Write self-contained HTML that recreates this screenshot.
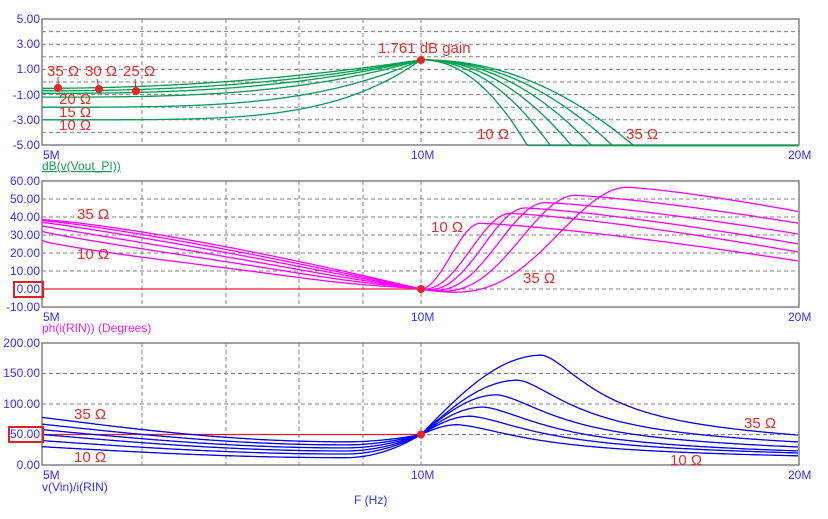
<!DOCTYPE html>
<html><head><meta charset="utf-8"><style>
html,body{margin:0;padding:0;background:#fff;}
svg{display:block;font-family:"Liberation Sans",Arial,sans-serif;}
.ax{fill:#3030ff;font-size:12px;}
.rl{fill:#ee2a2a;font-size:15px;}
</style></head><body>
<svg id="s" width="828" height="519" viewBox="0 0 828 519" xmlns="http://www.w3.org/2000/svg">
<g id="grid" stroke="#808080" stroke-width="1" stroke-dasharray="4,3" fill="none"></g>
<g fill="none" stroke="#808080" stroke-width="1.5">
<rect x="42" y="19" width="757" height="126"/>
<rect x="42" y="181" width="757" height="126"/>
<rect x="42" y="343" width="757" height="122"/>
</g>
<line x1="42" y1="289" x2="421" y2="289" stroke="#e02020" stroke-width="1.3"/>
<line x1="42" y1="434.5" x2="421" y2="434.5" stroke="#e02020" stroke-width="1.3"/>
<g id="curves" fill="none" stroke-width="1.3"></g>
<g class="ax" text-anchor="end">
<text x="40" y="23">5.00</text><text x="40" y="48">3.00</text><text x="40" y="73">1.00</text><text x="40" y="99">-1.00</text><text x="40" y="124">-3.00</text><text x="40" y="149">-5.00</text>
<text x="40" y="185">60.00</text><text x="40" y="203">50.00</text><text x="40" y="221">40.00</text><text x="40" y="239">30.00</text><text x="40" y="257">20.00</text><text x="40" y="275">10.00</text><text x="40" y="293">0.00</text><text x="40" y="311">-10.00</text>
<text x="40" y="347">200.00</text><text x="40" y="377">150.00</text><text x="40" y="408">100.00</text><text x="40" y="438">50.00</text><text x="40" y="469">0.00</text>
</g>
<rect x="14" y="282" width="29" height="15" fill="none" stroke="#e02020" stroke-width="2"/>
<rect x="9" y="427" width="34" height="15" fill="none" stroke="#e02020" stroke-width="2"/>
<g class="ax">
<text x="43" y="159">5M</text><text x="411" y="159">10M</text><text x="788" y="159">20M</text>
<text x="43" y="321">5M</text><text x="411" y="321">10M</text><text x="788" y="321">20M</text>
<text x="43" y="479">5M</text><text x="411" y="479">10M</text><text x="788" y="479">20M</text>
<text x="42" y="170" fill="#10a050" text-decoration="underline">dB(v(Vout_PI))</text>
<text x="42" y="332" fill="#f020f0">ph(i(RIN)) (Degrees)</text>
<text x="42" y="491">v(Vin)/i(RIN)</text>
<text x="354" y="504">F (Hz)</text>
</g>
<g stroke="#e02020" stroke-width="1"><line x1="58" y1="77" x2="58" y2="88"/><line x1="97" y1="79" x2="99" y2="89"/><line x1="135" y1="79" x2="136" y2="91"/></g>
<g fill="#ee2222">
<circle cx="58" cy="88" r="4"/><circle cx="99" cy="89" r="4"/><circle cx="136" cy="91" r="4"/>
<circle cx="421" cy="60" r="4"/><circle cx="421" cy="289" r="4"/><circle cx="421" cy="434.5" r="4"/>
</g>
<g class="rl">
<text x="47" y="76">35 Ω</text><text x="85" y="76">30 Ω</text><text x="123" y="76">25 Ω</text>
<text x="59" y="104">20 Ω</text><text x="59" y="117">15 Ω</text><text x="59" y="130">10 Ω</text>
<text x="378" y="53">1.761 dB gain</text>
<text x="477" y="139">10 Ω</text><text x="626" y="139">35 Ω</text>
<text x="77" y="219">35 Ω</text><text x="77" y="259">10 Ω</text>
<text x="431" y="232">10 Ω</text><text x="523" y="283">35 Ω</text>
<text x="74" y="419">35 Ω</text><text x="74" y="462">10 Ω</text>
<text x="744" y="428">35 Ω</text><text x="670" y="465">10 Ω</text>
</g>
</svg>
<script>
var NS="http://www.w3.org/2000/svg";
var g=document.getElementById("grid"),c=document.getElementById("curves");
function ln(x1,y1,x2,y2,p){var l=document.createElementNS(NS,"line");l.setAttribute("x1",x1);l.setAttribute("y1",y1);l.setAttribute("x2",x2);l.setAttribute("y2",y2);p.appendChild(l);}
var vx=[142,226,299,363,421];
[[19,145],[181,307],[343,465]].forEach(function(b){vx.forEach(function(x){ln(x,b[0],x,b[1],g);});});
for(var i=1;i<10;i++){var y=19+i*12.6;ln(42,y,799,y,g);}
for(var i=1;i<7;i++){var y=181+i*18;ln(42,y,799,y,g);}
for(var i=1;i<4;i++){var y=343+i*30.5;ln(42,y,799,y,g);}
function path(fn,col,y0,y1){var d="";for(var x=42;x<=799;x+=2){var y=fn(x);y=Math.max(y0,Math.min(y1,y));d+=(x==42?"M":"L")+x+","+y.toFixed(1)+" ";}
var p=document.createElementNS(NS,"path");p.setAttribute("d",d);p.setAttribute("stroke",col);c.appendChild(p);}
function ss(u){u=Math.max(0,Math.min(1,u));return u*u*(3-2*u);}
var tv0=[-3.0,-2.0,-1.2,-0.9,-0.7,-0.5],tp=[4.5,3.6,3,2.6,2.3,2],te=[527,550,571,591,612,633];
for(var k=0;k<6;k++)(function(k){path(function(x){var v;if(x<=421){var t=(x-42)/379;v=tv0[k]+(1.761-tv0[k])*Math.pow(t,tp[k]);}else{var u=(x-421)/(te[k]-421);v=1.761-6.761*Math.pow(u,2.1);}return 19+(5-v)*12.6;},"#00a050",19,145.5);})(k);
var m0=[27,32,35,37,38,38.5],mp=[0.8,0.9,1.0,1.1,1.2,1.3],mP=[36.5,42,45,48,52,56.5],mX=[480,510,525,545,575,627],mE=[15.5,20.5,25,30.5,36.5,43];
for(var k=0;k<6;k++)(function(k){path(function(x){var v;if(x<=421){var t=(x-42)/379;v=m0[k]*(1-Math.pow(t,mp[k]))-(5-k)*0.8*Math.pow(Math.sin(Math.PI*t),2)*Math.pow(t,6)*3;}else if(x<=mX[k]){var u=(x-421)/(mX[k]-421);var e=1+k/5;v=mP[k]*Math.pow(ss(u),e)-(k*1.2)*Math.sin(Math.PI*u)*Math.pow(1-u,2);}else{var w=(x-mX[k])/(799-mX[k]);v=mP[k]-(mP[k]-mE[k])*Math.pow(w,1.3);}return 181+(60-v)*1.8;},"#ff00ff",181,307);})(k);
var b0=[30,40,50,58,67,78],bm=[12,18,23,28,33,38],bP=[66,80,95,115,139,180],bX=[457,470,483,497,518,542],bE=[15,19.7,23,29.5,37.7,49];
for(var k=0;k<6;k++)(function(k){path(function(x){var v,tm=0.8;if(x<=421){var t=(x-42)/379;if(t<tm){v=b0[k]+(bm[k]-b0[k])*Math.sin(Math.PI/2*t/tm);}else{var s=(t-tm)/(1-tm);v=bm[k]+(50-bm[k])*s*s;}}else if(x<=bX[k]){var u=(x-421)/(bX[k]-421);v=50+(bP[k]-50)*Math.sin(Math.PI/2*u);}else{var w=(x-bX[k])/(799-bX[k]);var L=1/(1+8.7*Math.pow(w,1.6)),L1=1/9.7;var f=L-L1*w;v=bE[k]+(bP[k]-bE[k])*f;}return 465-0.61*v;},"#0000ff",343,465);})(k);
</script>
</body></html>
